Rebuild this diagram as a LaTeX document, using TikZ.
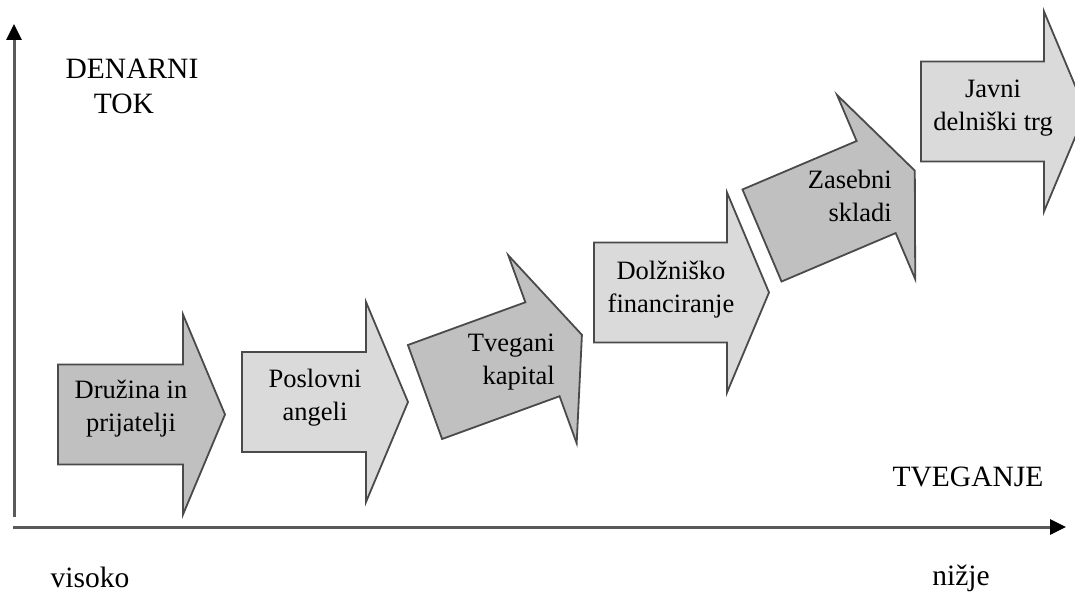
\documentclass[tikz,border=0pt]{standalone}
\usepackage{fontspec}
\setmainfont{Liberation Serif}
\usetikzlibrary{arrows.meta}
\definecolor{darkfill}{HTML}{C0C0C0}
\definecolor{lightfill}{HTML}{DADADA}
\definecolor{edgegray}{HTML}{4A4A4A}
\definecolor{axisgray}{HTML}{5A5A5A}
\tikzset{
  stagearrowstyle/.style={draw=edgegray, line width=1.8pt, line join=miter},
  axisline/.style={draw=axisgray, line width=3pt, -{Triangle[length=16pt,width=15pt,color=black]}},
  boxtext/.style={font=\fontsize{26.5}{33}\selectfont, align=center, inner sep=0pt},
  boxtextr/.style={font=\fontsize{26.5}{33}\selectfont, align=right, inner sep=0pt},
  axislabel/.style={font=\fontsize{29.5}{33}\selectfont, inner sep=0pt, anchor=base},
}
% block arrow: left-centre x, y, angle, body length, fill colour
\newcommand\stagearrow[5]{%
  \begin{scope}[shift={(#1,#2)}, rotate=#3]
    \filldraw[stagearrowstyle, fill=#5]
      (0,-50) -- (#4,-50) -- (#4,-100) -- ({#4+42},0) -- (#4,100) -- (#4,50) -- (0,50) -- cycle;
  \end{scope}}
\begin{document}
\begin{tikzpicture}[x=1pt, y=-1pt]
  \useasboundingbox (0,0) rectangle (1075,594);

  % axes
  \coordinate (yfoot) at (14,517);
  \coordinate (ytop)  at (14,24);
  \coordinate (xfoot) at (13,527);
  \coordinate (xend)  at (1066,527);
  \draw[axisline] (yfoot) -- (ytop);
  \draw[axisline] (xfoot) -- (xend);

  % financing stages (the last one runs past the right edge)
  \begin{scope}
    \clip (0,0) rectangle (1075,594);
    \stagearrow{58}{414.5}{0}{125}{darkfill}
    \stagearrow{242}{402}{0}{124}{lightfill}
    \stagearrow{425}{392}{20}{125}{darkfill}
    \stagearrow{594}{292.5}{0}{133}{lightfill}
    \stagearrow{762}{235.5}{23}{124}{darkfill}
    \stagearrow{921}{111.5}{0}{123}{lightfill}
  \end{scope}

  \node[boxtext]  (druzina)  at (131,409) {Družina in\\prijatelji};
  \node[boxtext]  (angeli)   at (315,398) {Poslovni\\angeli};
  \node[boxtextr, anchor=east] (tvegani) at (555,362) {Tvegani\\kapital};
  \node[boxtext]  (dolg)     at (671,290) {Dolžniško\\financiranje};
  \node[boxtextr, anchor=east] (skladi) at (892,196) {Zasebni\\skladi};
  \node[boxtext]  (javni)    at (993,108) {Javni\\delniški trg};

  % axis labels
  \node[axislabel] (denarni)  at (132,78)  {DENARNI};
  \node[axislabel] (tok)      at (124,113) {TOK};
  \node[axislabel] (tveganje) at (968,486) {TVEGANJE};
  \node[axislabel] (visoko)   at (90,587)  {visoko};
  \node[axislabel] (nizje)    at (961,585) {nižje};
\end{tikzpicture}
\end{document}
